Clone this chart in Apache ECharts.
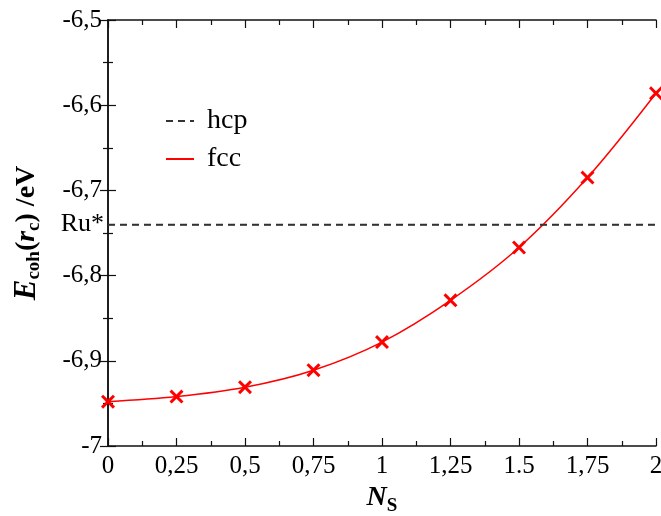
<!DOCTYPE html>
<html><head><meta charset="utf-8">
<script src="https://cdn.jsdelivr.net/npm/echarts@6/dist/echarts.min.js"></script>
<style>html,body{margin:0;padding:0;background:#fff}#c{width:661px;height:516px}</style>
</head><body><div id="c"></div>
<script>
const nsValues = [0, 0.25, 0.5, 0.75, 1, 1.25, 1.5, 1.75, 2];
const fccEnergy = [-6.948, -6.942, -6.931, -6.911, -6.878, -6.829, -6.767, -6.685, -6.586];
const hcpEnergy = [-6.74, -6.74];
const hcpNs = [0, 2];
const xTickLabels = ['0', '0,25', '0,5', '0,75', '1', '1,25', '1.5', '1,75', '2'];
const yTickLabels = ['-7', '-6,9', '-6,8', '-6,7', '-6,6', '-6,5'];
const seriesNames = ['hcp', 'fcc'];
const refLabel = 'Ru*';

const FONT = '"Liberation Serif", "DejaVu Serif", serif';
const xPath = 'path://M0,1.5 L1.5,0 L5,3.5 L8.5,0 L10,1.5 L6.5,5 L10,8.5 L8.5,10 L5,6.5 L1.5,10 L0,8.5 L3.5,5 Z';

const chart = echarts.init(document.getElementById('c'), null, {renderer: 'canvas'});
const axisLine = {show: true, lineStyle: {color: '#111', width: 1.5}};
const tickMajor = {show: true, inside: true, length: 8, lineStyle: {color: '#111', width: 1.2}};
const tickMinor = {show: true, splitNumber: 2, length: 5, lineStyle: {color: '#111', width: 1.2}};
const hcpLine = {color: '#333', width: 1.5, type: [7, 5]};

chart.setOption({
  animation: false,
  backgroundColor: '#fff',
  grid: {left: 108, right: 5, top: 20, bottom: 70, containLabel: false, outerBoundsMode: 'none'},
  legend: {
    data: seriesNames,
    orient: 'vertical', left: 160, top: 102,
    itemWidth: 28, itemHeight: 30, itemGap: 10,
    itemStyle: {opacity: 0},
    textStyle: {fontFamily: FONT, fontSize: 28, color: '#000', padding: [0, 0, 0, 8]}
  },
  xAxis: [{
    type: 'value', min: 0, max: 2, interval: 0.25,
    axisLine, axisTick: tickMajor, minorTick: tickMinor, splitLine: {show: false},
    axisLabel: {fontFamily: FONT, fontSize: 25, color: '#000', margin: 8,
      formatter: v => xTickLabels[Math.round(v / 0.25)]},
    name: '{n|N}{s|S}', nameLocation: 'middle', nameGap: 30,
    nameTextStyle: {rich: {
      n: {fontFamily: FONT, fontSize: 28, fontWeight: 'bold', fontStyle: 'italic', color: '#000'},
      s: {fontFamily: FONT, fontSize: 19, fontWeight: 'bold', color: '#000', padding: [16, 0, 0, 0]}
    }}
  }, {
    type: 'value', min: 0, max: 2, interval: 0.25, position: 'top',
    axisLine, axisTick: tickMajor, minorTick: tickMinor, splitLine: {show: false},
    axisLabel: {show: false}
  }],
  yAxis: [{
    type: 'value', min: -7, max: -6.5, interval: 0.1,
    axisLine, axisTick: tickMajor, minorTick: tickMinor, splitLine: {show: false},
    axisLabel: {fontFamily: FONT, fontSize: 25, color: '#000', margin: 6,
      formatter: v => yTickLabels[Math.round((v + 7) / 0.1)]},
    name: '{e|E}{sub|coh}{p|(}{r|r}{sub|c}{p|) /eV}', nameLocation: 'middle', nameGap: 64, nameRotate: 90,
    nameTextStyle: {rich: {
      e: {fontFamily: FONT, fontSize: 31, fontWeight: 'bold', fontStyle: 'italic', color: '#000'},
      sub: {fontFamily: FONT, fontSize: 19, fontWeight: 'bold', color: '#000', padding: [16, 0, 0, 0]},
      p: {fontFamily: FONT, fontSize: 28, fontWeight: 'bold', color: '#000'},
      r: {fontFamily: FONT, fontSize: 28, fontWeight: 'bold', fontStyle: 'italic', color: '#000'}
    }}
  }, {
    type: 'value', min: -7, max: -6.5, interval: 0.1, position: 'right',
    axisLine, axisTick: tickMajor, minorTick: tickMinor, splitLine: {show: false},
    axisLabel: {show: false}
  }],
  series: [{
    name: seriesNames[0], type: 'line', symbol: 'none',
    data: hcpNs.map((x, i) => [x, hcpEnergy[i]]),
    lineStyle: hcpLine,
    itemStyle: {color: '#333'},
    markLine: {
      silent: true, symbol: 'none',
      lineStyle: hcpLine,
      data: [{yAxis: hcpEnergy[0]}],
      label: {show: true, position: 'start', formatter: refLabel, fontFamily: FONT, fontSize: 26, color: '#000', distance: 4}
    }
  }, {
    name: seriesNames[1], type: 'line', symbol: 'none', smooth: 0.35,
    data: nsValues.map((x, i) => [x, fccEnergy[i]]),
    lineStyle: {color: '#ff0000', width: 1.5},
    itemStyle: {color: '#ff0000'}
  }, {
    name: 'fcc-points', type: 'scatter', symbol: xPath, symbolSize: 14, clip: false,
    data: nsValues.map((x, i) => [x, fccEnergy[i]]),
    itemStyle: {color: '#ff0000', opacity: 1},
    z: 5
  }]
});
</script></body></html>
